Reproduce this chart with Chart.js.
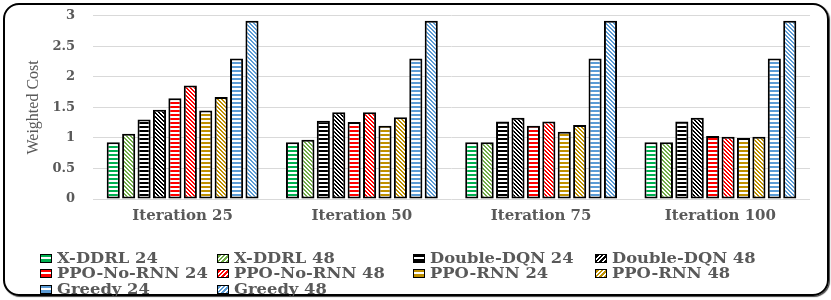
<!DOCTYPE html>
<html>
<head>
<meta charset="utf-8">
<script src="https://cdn.jsdelivr.net/npm/chart.js@4"></script>
<style>
  body { margin: 0; background: #fff; }
  #frame {
    position: absolute; left: 3px; top: 3px; width: 822px; height: 289px;
    border: 2px solid #000; border-radius: 16px; box-shadow: 1px 1px 1px #444;
  }
  #wrap { position: absolute; left: 0; top: -10px; width: 831px; height: 239px; }
  #legend { position: absolute; left: 0; top: 0; width: 831px; height: 300px; pointer-events: none; }
  .item {
    position: absolute; height: 16px; display: flex; align-items: center;
    font-family: 'DejaVu Serif', serif; font-weight: bold; font-size: 15px; color: #595959;
    white-space: nowrap;
  }
  .item span.txt { display: inline-block; transform: scaleX(1.09); transform-origin: left center; }
  .box { width: 10px; height: 7px; border: 1px solid #000; margin-right: 5px; }
</style>
</head>
<body>
<div id="frame"></div>
<div id="wrap"><canvas id="chart"></canvas></div>
<div id="legend"></div>
<script>
const categorias = ['Iteration 25', 'Iteration 50', 'Iteration 75', 'Iteration 100'];
const seriesNombres = [
    'X-DDRL 24', 'X-DDRL 48', 'Double-DQN 24', 'Double-DQN 48', 'PPO-No-RNN 24',
    'PPO-No-RNN 48', 'PPO-RNN 24', 'PPO-RNN 48', 'Greedy 24', 'Greedy 48'
];
const xddrl24 = [0.93, 0.93, 0.93, 0.93];
const xddrl48 = [1.07, 0.97, 0.93, 0.93];
const ddqn24 = [1.30, 1.28, 1.27, 1.27];
const ddqn48 = [1.46, 1.42, 1.33, 1.33];
const ppoNoRnn24 = [1.65, 1.26, 1.20, 1.03];
const ppoNoRnn48 = [1.86, 1.42, 1.27, 1.02];
const ppoRnn24 = [1.45, 1.20, 1.10, 1.00];
const ppoRnn48 = [1.67, 1.34, 1.21, 1.02];
const greedy24 = [2.30, 2.30, 2.30, 2.30];
const greedy48 = [2.92, 2.92, 2.92, 2.92];
const yTicks = [0, 0.5, 1, 1.5, 2, 2.5, 3];

const valores = [xddrl24, xddrl48, ddqn24, ddqn48, ppoNoRnn24, ppoNoRnn48, ppoRnn24, ppoRnn48, greedy24, greedy48];
const colores = ['#00b050', '#70ad47', '#000000', '#000000', '#ff0000', '#ff0000', '#bf9000', '#bf9000', '#5b9bd5', '#5b9bd5'];

function rayasHorizontales(color) {
    const c = document.createElement('canvas');
    c.width = 4; c.height = 4;
    const g = c.getContext('2d');
    g.fillStyle = '#fff';
    g.fillRect(0, 0, 4, 4);
    g.fillStyle = color;
    g.fillRect(0, 0, 4, 2);
    return g.createPattern(c, 'repeat');
}

function rayasDiagonales(color) {
    const c = document.createElement('canvas');
    c.width = 4; c.height = 4;
    const g = c.getContext('2d');
    g.fillStyle = '#fff';
    g.fillRect(0, 0, 4, 4);
    g.fillStyle = color;
    for (let i = 0; i < 4; i++) {
        g.fillRect(i, i, 1, 1);
        g.fillRect((i + 1) % 4, i, 1, 1);
    }
    return g.createPattern(c, 'repeat');
}

function cssPatron(color, diagonal) {
    return diagonal
        ? `repeating-linear-gradient(-45deg, ${color} 0 2px, #fff 2px 3.2px)`
        : `linear-gradient(${color} 0 2.5px, #fff 2.5px 4.5px, ${color} 4.5px)`;
}

const datasets = seriesNombres.map((nombre, i) => ({
    label: nombre,
    data: valores[i],
    backgroundColor: i % 2 === 0 ? rayasHorizontales(colores[i]) : rayasDiagonales(colores[i]),
    borderColor: '#000',
    borderWidth: 2,
    borderSkipped: false
}));

const textoGris = '#595959';

new Chart(document.getElementById('chart'), {
    type: 'bar',
    data: { labels: categorias, datasets: datasets },
    options: {
        responsive: true,
        maintainAspectRatio: false,
        animation: false,
        categoryPercentage: 0.86,
        barPercentage: 0.85,
        layout: { padding: { top: 7, right: 21, bottom: 0, left: 0 } },
        plugins: {
            legend: { display: false },
            tooltip: { enabled: false }
        },
        scales: {
            x: {
                grid: { display: false },
                border: { display: false },
                ticks: {
                    color: textoGris,
                    padding: 0,
                    font: { family: 'DejaVu Serif', weight: 'bold', size: 15 }
                },
                afterFit: scale => { scale.height = 30; }
            },
            y: {
                min: 0,
                max: 3,
                afterBuildTicks: scale => { scale.ticks = yTicks.map(v => ({ value: v })); },
                grid: { color: '#d9d9d9', drawTicks: false },
                border: { display: false },
                ticks: {
                    color: textoGris,
                    padding: 18,
                    callback: v => String(v),
                    font: { family: 'DejaVu Serif', weight: 'bold', size: 13 }
                },
                title: {
                    display: true,
                    text: 'Weighted Cost',
                    color: textoGris,
                    padding: { top: 24, bottom: 0 },
                    font: { family: 'Liberation Serif', size: 16 }
                },
                afterFit: scale => { scale.width = 93; }
            }
        }
    }
});

// leyenda en rejilla de 4 columnas como en la figura
const colX = [40, 217, 413, 595];
const filaY = [250, 265, 281];
const leyenda = document.getElementById('legend');
seriesNombres.forEach((nombre, i) => {
    const item = document.createElement('div');
    item.className = 'item';
    item.style.left = colX[i % 4] + 'px';
    item.style.top = filaY[Math.floor(i / 4)] + 'px';
    const box = document.createElement('span');
    box.className = 'box';
    box.style.background = cssPatron(colores[i], i % 2 === 1);
    const txt = document.createElement('span');
    txt.className = 'txt';
    txt.textContent = nombre;
    item.appendChild(box);
    item.appendChild(txt);
    leyenda.appendChild(item);
});
</script>
</body>
</html>
